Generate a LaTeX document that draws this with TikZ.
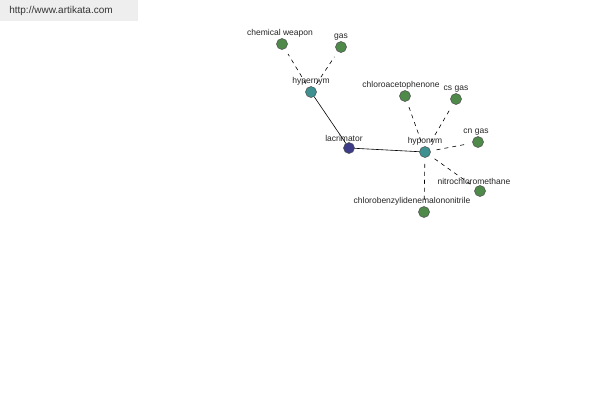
\documentclass[tikz,border=0pt]{standalone}
\usepackage{fontspec}
\setmainfont{Liberation Sans}
\usepackage{tikz}
\usetikzlibrary{positioning}

\definecolor{leafgreen}{HTML}{4F8A4B}
\definecolor{relteal}{HTML}{3F9090}
\definecolor{rootblue}{HTML}{3C3C88}
\definecolor{boxgray}{HTML}{EEEEEE}

\tikzset{
  dot/.style={circle, draw=black!70, line width=0.5pt, minimum size=11pt, inner sep=0pt},
  leaf/.style={dot, fill=leafgreen},
  rel/.style={dot, fill=relteal},
  root/.style={dot, fill=rootblue},
  lbl/.style={font=\fontsize{8.5}{9}\selectfont, text=black!85, label distance=-2.5pt},
  tie/.style={draw=black, line width=0.6pt},
  loose/.style={draw=black, line width=0.6pt, dash pattern=on 4pt off 4pt}
}

\begin{document}
\begin{tikzpicture}[x=1pt,y=-1pt]
  \useasboundingbox (0,0) rectangle (600,400);
  \fill[white] (0,0) rectangle (600,400);

  % site box
  \fill[boxgray] (0,0) rectangle (138,21);
  \node[font=\fontsize{10}{11}\selectfont, text=black!80] (site) at (61,11) {http://www.artikata.com};

  % centre and relations
  \node[root, label={[lbl,xshift=-5pt]above:lacrimator}] (lacrimator) at (349,148) {};
  \node[rel, label={[lbl]above:hypernym}] (hypernym) at (311,92) {};
  \node[rel, label={[lbl]above:hyponym}] (hyponym) at (425,152) {};

  % leaves
  \node[leaf, label={[lbl,xshift=-2pt]above:chemical weapon}] (weapon) at (282,44) {};
  \node[leaf, label={[lbl]above:gas}] (gas) at (341,47) {};
  \node[leaf, label={[lbl,xshift=-4pt]above:chloroacetophenone}] (cap) at (405,96) {};
  \node[leaf, label={[lbl]above:cs gas}] (csgas) at (456,99) {};
  \node[leaf, label={[lbl,xshift=-2pt]above:cn gas}] (cngas) at (478,142) {};
  \node[leaf, label={[lbl,xshift=-6pt]above:nitrochloromethane}] (ncm) at (480,191) {};
  \node[leaf, label={[lbl,xshift=-12pt]above:chlorobenzylidenemalononitrile}] (cbm) at (424,212) {};

  \draw[tie] (lacrimator) -- (hypernym);
  \draw[tie] (lacrimator) -- (hyponym);

  \draw[loose, shorten <=4pt, shorten >=6pt] (hypernym) -- (weapon);
  \draw[loose, shorten <=4pt, shorten >=6pt] (hypernym) -- (gas);
  \foreach \leafnode in {cap,csgas,cngas,ncm,cbm}
    \draw[loose, shorten <=6pt, shorten >=6pt] (hyponym) -- (\leafnode);
\end{tikzpicture}
\end{document}
